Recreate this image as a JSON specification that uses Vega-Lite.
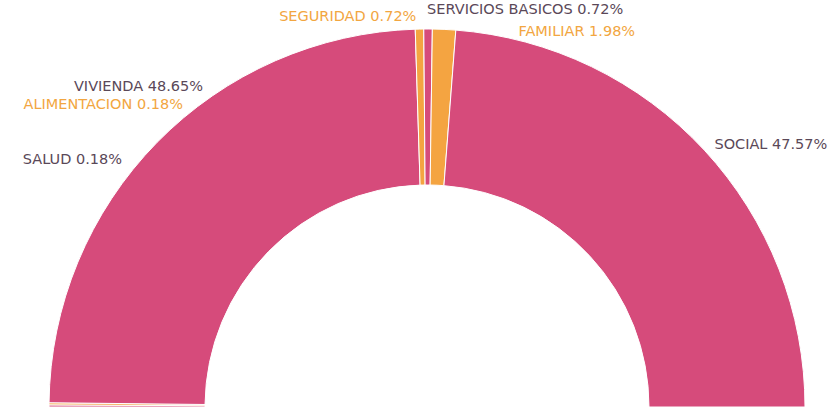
{
  "$schema": "https://vega.github.io/schema/vega-lite/v6.json",
  "autosize": {"type": "fit", "contains": "padding"},
  "width": 838,
  "height": 414,
  "padding": {"left": 16, "right": 0, "top": 0, "bottom": 4},
  "background": "white",
  "view": {"stroke": null},
  "data": {
    "values": [
      {"idx": 1, "category": "SALUD", "pct": 0.18},
      {"idx": 2, "category": "ALIMENTACION", "pct": 0.18},
      {"idx": 3, "category": "VIVIENDA", "pct": 48.65},
      {"idx": 4, "category": "SEGURIDAD", "pct": 0.72},
      {"idx": 5, "category": "SERVICIOS BASICOS", "pct": 0.72},
      {"idx": 6, "category": "FAMILIAR", "pct": 1.98},
      {"idx": 7, "category": "SOCIAL", "pct": 47.57}
    ]
  },
  "transform": [
    {"calculate": "datum.category + ' ' + format(datum.pct, '.2f') + '%'", "as": "label"}
  ],
  "encoding": {
    "theta": {"field": "pct", "type": "quantitative", "stack": true, "scale": {"range": [-1.5708, 1.5708]}},
    "order": {"field": "idx", "type": "quantitative"}
  },
  "layer": [
    {
      "mark": {"type": "arc", "radius": 378, "innerRadius": 222, "x": {"expr": "width/2"}, "y": {"expr": "height"}, "stroke": "white", "strokeWidth": 1},
      "encoding": {
        "color": {
          "field": "category", "type": "nominal", "legend": null,
          "scale": {
            "domain": ["SALUD", "ALIMENTACION", "VIVIENDA", "SEGURIDAD", "SERVICIOS BASICOS", "FAMILIAR", "SOCIAL"],
            "range": ["#d64b7b", "#f4a441", "#d64b7b", "#f4a441", "#d64b7b", "#f4a441", "#d64b7b"]
          }
        }
      }
    },
    {
      "mark": {
        "type": "text", "radius": 385, "x": {"expr": "width/2"}, "y": {"expr": "height"},
        "font": "DejaVu Sans", "fontSize": 14.5, "baseline": "middle",
        "align": {"expr": "datum.idx <= 4 ? 'right' : 'left'"},
        "dx": {"expr": "datum.category == 'SALUD' ? 80 : datum.category == 'ALIMENTACION' ? 141 : datum.category == 'VIVIENDA' ? 51 : datum.category == 'SEGURIDAD' ? -3 : datum.category == 'SERVICIOS BASICOS' ? -1 : datum.category == 'FAMILIAR' ? 74 : 5"},
        "dy": {"expr": "datum.category == 'SALUD' ? -246 : datum.category == 'ALIMENTACION' ? -299 : datum.category == 'VIVIENDA' ? -50 : datum.category == 'SEGURIDAD' ? -5 : datum.category == 'SERVICIOS BASICOS' ? -12 : datum.category == 'FAMILIAR' ? 10 : 0"},
        "fill": {"expr": "indexof(['SEGURIDAD','FAMILIAR','ALIMENTACION'], datum.category) >= 0 ? '#f2a641' : '#5a4858'"}
      },
      "encoding": {
        "text": {"field": "label", "type": "nominal"}
      }
    }
  ]
}
